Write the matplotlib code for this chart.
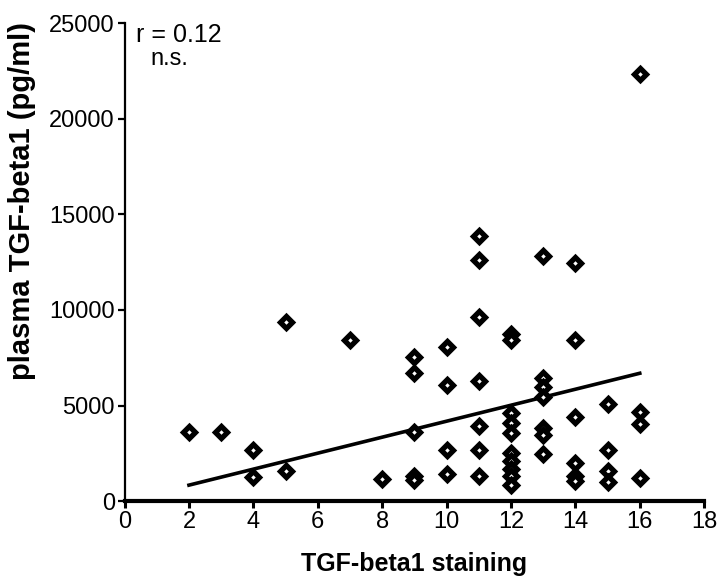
import matplotlib
matplotlib.use("Agg")
import matplotlib.pyplot as plt
import numpy as np

plt.rcParams['font.family'] = ['Liberation Sans', 'DejaVu Sans']

# staining score and plasma TGF-beta1 (pg/ml)
staining = [2, 3, 4, 4, 5, 5, 7, 8,
            9, 9, 9, 9, 9,
            10, 10, 10, 10,
            11, 11, 11, 11, 11, 11, 11,
            12, 12, 12, 12, 12, 12, 12, 12, 12, 12,
            13, 13, 13, 13, 13, 13, 13,
            14, 14, 14, 14, 14, 14,
            15, 15, 15, 15,
            16, 16, 16, 16]
plasma = [3600, 3600, 2650, 1250, 9380, 1550, 8420, 1150,
          7550, 6700, 3600, 1300, 1100,
          8040, 6100, 2700, 1400,
          13860, 12600, 9650, 6280, 3920, 2670, 1320,
          8750, 8450, 4600, 4100, 3540, 2500, 2100, 1700, 1300, 850,
          12810, 6420, 5980, 5450, 3800, 3450, 2490,
          12430, 8420, 4410, 1990, 1300, 1050,
          5100, 2650, 1600, 1020,
          22330, 4670, 4030, 1220]

fit_slope = 418.0
fit_intercept = 0.0
fit_range = [2, 16]

x_ticks = list(range(0, 19, 2))
y_ticks = [0, 5000, 10000, 15000, 20000, 25000]

fig = plt.figure(figsize=(7.2, 5.8), dpi=100)
ax = fig.add_axes([0.173, 0.136, 0.805, 0.824])

ax.plot(staining, plasma, linestyle='none', marker='D', markersize=6,
        markerfacecolor='white', markeredgecolor='black', markeredgewidth=3.8,
        zorder=3)

fx = np.array(fit_range, dtype=float)
ax.plot(fx, fit_intercept + fit_slope * fx, color='black', linewidth=2.6, zorder=2)

ax.set_xlim(0, 18)
ax.set_ylim(0, 25000)
ax.set_xticks(x_ticks)
ax.set_yticks(y_ticks)
ax.set_xticklabels([str(t) for t in x_ticks])
ax.set_yticklabels([str(t) for t in y_ticks])

for s in ['top', 'right']:
    ax.spines[s].set_visible(False)
ax.spines['bottom'].set_linewidth(3)
ax.spines['left'].set_linewidth(1.6)
ax.tick_params(axis='x', direction='out', length=5, width=2.2, labelsize=17, pad=2)
ax.tick_params(axis='y', direction='out', length=5, width=1.6, labelsize=17, pad=2)

ax.set_xlabel('TGF-beta1 staining', fontsize=18, fontweight='bold', va='center')
ax.xaxis.set_label_coords(0.5, -0.132)
ax.set_ylabel('plasma TGF-beta1 (pg/ml)', fontsize=21, fontweight='bold', va='center')
ax.yaxis.set_label_coords(-0.177, 0.628)

ax.text(0.02, 1.0, 'r = 0.12', transform=ax.transAxes, fontsize=18,
        ha='left', va='top')
ax.text(0.045, 0.948, 'n.s.', transform=ax.transAxes, fontsize=17,
        ha='left', va='top')

fig.savefig('out.png', dpi=100)
